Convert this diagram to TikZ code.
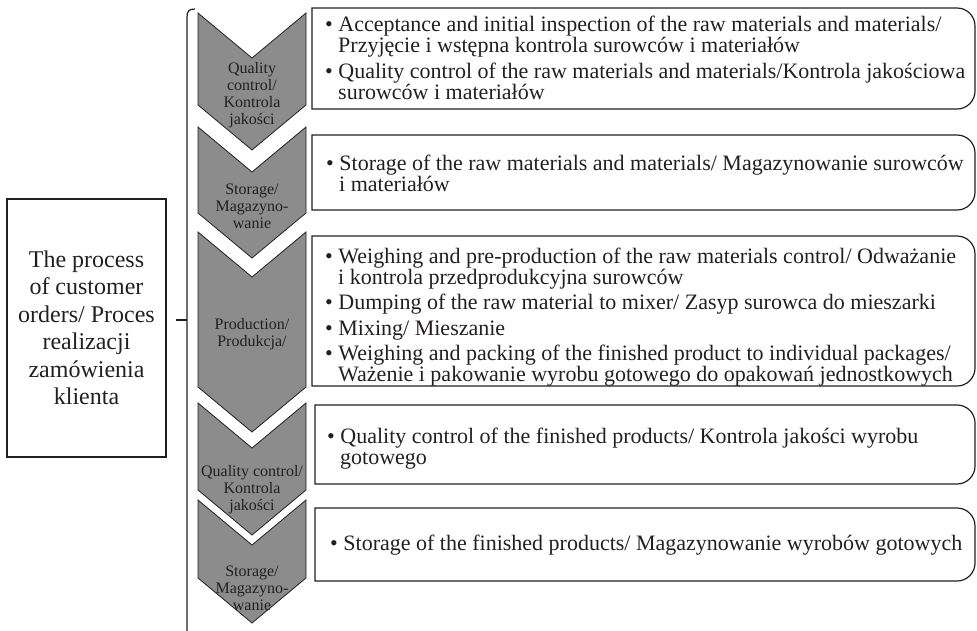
\documentclass[tikz,border=0pt]{standalone}
\usepackage{fontspec}
\setmainfont{Liberation Serif}
\definecolor{chevgray}{RGB}{140,140,140}
\definecolor{inkgray}{RGB}{35,31,32}
\newcommand{\bl}{\textbullet\ }
\newcommand{\ind}{\hspace*{13pt}}
% box with square left corners and round right corners: x1 y1 x2 y2
\newcommand{\rightround}[4]{%
  \draw[rbox] (#1,#2) -- (#3-18,#2) arc[start angle=270, end angle=360, radius=18]
    -- (#3,#4-18) arc[start angle=0, end angle=90, radius=18] -- (#1,#4) -- cycle;}
% chevron: top, tip
\newcommand{\chevron}[2]{%
  \draw[chev] (198,#1) -- (252,#1+45) -- (306,#1) -- (306,#2-45) -- (252,#2) -- (198,#2-45) -- cycle;}

\begin{document}
\begin{tikzpicture}[x=1pt, y=-1pt,
    chev/.style={fill=chevgray, draw=inkgray, line width=0.8pt},
    rbox/.style={draw=inkgray, line width=1.2pt},
    chevtxt/.style={align=center, inner sep=0pt, text=inkgray, font=\fontsize{16}{17}\selectfont},
    boxtxt/.style={align=left, anchor=north west, inner sep=0pt, text=inkgray, font=\fontsize{22}{20.5}\selectfont}]
    \useasboundingbox (0,0) rectangle (977,630);

    \node[draw=inkgray, line width=1.2pt, minimum width=159pt, minimum height=258pt, inner sep=0pt,
          align=center, text=inkgray, font=\fontsize{24}{27.5}\selectfont] (order) at (86.5,328)
        {The process\\of customer\\orders/ Proces\\realizacji\\zamówienia\\klienta};

    % bracket
    \coordinate (brtop) at (195,9);
    \coordinate (brmid) at (187,320);
    \coordinate (brbot) at (187,632);
    \draw[inkgray, line width=1.2pt] (brtop) .. controls (189,9) and (187,11) .. (187,17) -- (brbot);
    \draw[inkgray, line width=1.2pt] ([xshift=9pt]order.east |- brmid) -- (brmid);

    % chevrons
    \chevron{13}{150}
    \chevron{127}{258}
    \chevron{232}{432}
    \chevron{403}{535}
    \chevron{500}{623}
    \node[chevtxt] (check1) at (252,95) {Quality\\control/\\Kontrola\\jakości};
    \node[chevtxt] (store1) at (252,206) {Storage/\\Magazyno-\\wanie};
    \node[chevtxt] (prod) at (252,334) {Production/\\Produkcja/};
    \node[chevtxt] (check2) at (252,490) {Quality control/\\Kontrola\\jakości};
    \node[chevtxt] (store2) at (252,588) {Storage/\\Magazyno-\\wanie};

    % description boxes
    \rightround{312}{8}{975}{109}
    \rightround{312}{135}{975}{210}
    \rightround{312}{236}{975}{386}
    \rightround{315}{405}{975}{484}
    \rightround{315}{508}{975}{581}

    \node[boxtxt] (desc1) at (325,16) {\bl Acceptance and initial inspection of the raw materials and materials/\\
        \ind Przyjęcie i wstępna kontrola surowców i materiałów\\[6pt]
        \bl Quality control of the raw materials and materials/Kontrola jakościowa\\
        \ind surowców i materiałów};
    \node[boxtxt] (desc2) at (326,155) {\bl Storage of the raw materials and materials/ Magazynowanie surowców\\
        \ind i materiałów};
    \node[boxtxt] (desc3) at (325,248) {\bl Weighing and pre-production of the raw materials control/ Odważanie\\
        \ind i kontrola przedprodukcyjna surowców\\[5pt]
        \bl Dumping of the raw material to mixer/ Zasyp surowca do mieszarki\\[5pt]
        \bl Mixing/ Mieszanie\\[5pt]
        \bl Weighing and packing of the finished product to individual packages/\\
        \ind Ważenie i pakowanie wyrobu gotowego do opakowań jednostkowych};
    \node[boxtxt] (desc4) at (327,428) {\bl Quality control of the finished products/ Kontrola jakości wyrobu\\
        \ind gotowego};
    \node[boxtxt] (desc5) at (330,535) {\bl Storage of the finished products/ Magazynowanie wyrobów gotowych};
\end{tikzpicture}
\end{document}
